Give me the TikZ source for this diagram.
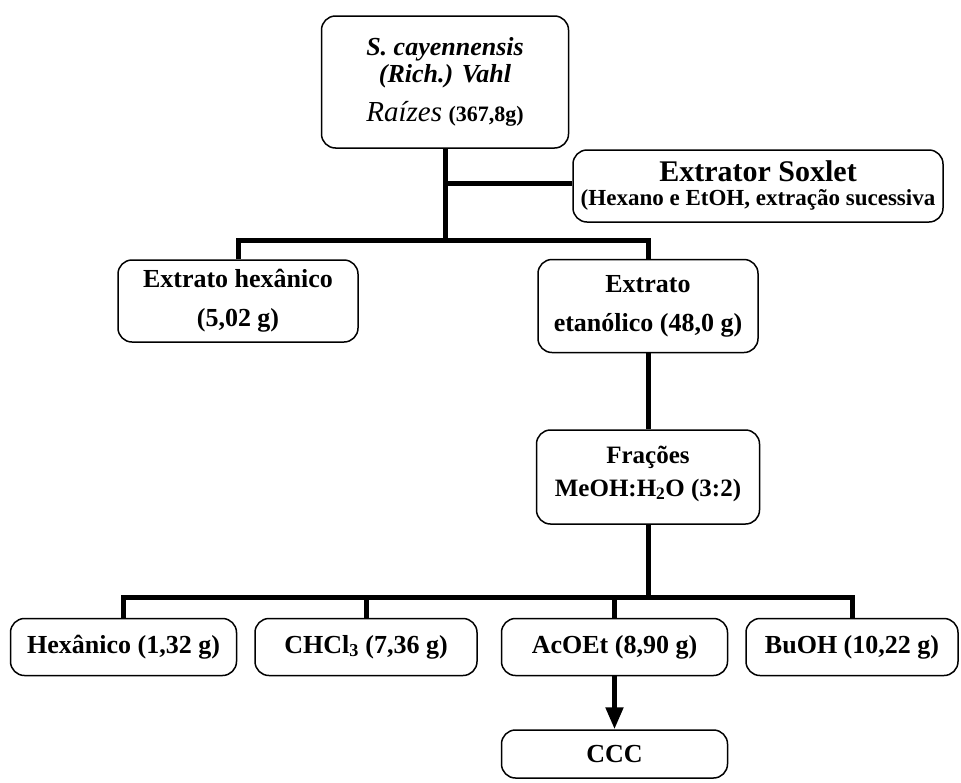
\documentclass[tikz,border=0pt]{standalone}
\usepackage{fontspec}
\setmainfont{Liberation Serif}
\usetikzlibrary{arrows.meta}

\tikzset{
	caixa/.style={draw, line width=1.5pt, rounded corners=14pt, align=center, inner sep=0pt,
		font=\fontsize{26}{39}\selectfont\bfseries},
	ligacao/.style={line width=5pt, line join=miter},
}

\begin{document}
\begin{tikzpicture}[x=1pt, y=-1pt]
			\useasboundingbox (0,0) rectangle (961,782);

			\def\wF{226};
			\def\hF{57};

			\begin{scope}
				\node[caixa, minimum width=247pt, minimum height=132pt, font=\fontsize{26}{27}\selectfont] (planta) at (445,82)
					{\textbf{\textit{S. cayennensis}}\\ \textbf{\textit{(Rich.) Vahl}}\\[12pt]
					{\fontsize{29}{30}\selectfont\textit{Raízes}} {\fontsize{22}{24}\selectfont\textbf{(367,8g)}}};
				\node[caixa, minimum width=370pt, minimum height=72pt, font=\fontsize{30}{24}\selectfont\bfseries] (soxlet) at (758,186)
					{Extrator Soxlet\\ {\fontsize{23}{24}\selectfont(Hexano e EtOH, extração sucessiva}};
				\node[caixa, minimum width=240pt, minimum height=82pt] (hexanico) at (238,301)
					{Extrato hexânico\\ (5,02 g)};
				\node[caixa, minimum width=220pt, minimum height=93pt] (etanolico) at (648,306)
					{Extrato\\ etanólico (48,0 g)};
				\node[caixa, minimum width=223pt, minimum height=94pt, font=\fontsize{25}{33}\selectfont\bfseries] (fracoes) at (648,477)
					{Frações\\ MeOH:H\textsubscript{2}O (3:2)\\[-21pt]};
			\end{scope}

			\begin{scope}
				\node[caixa, minimum width=\wF pt, minimum height=\hF pt] (fhex) at (123.5,647) {Hexânico (1,32 g)};
				\node[caixa, minimum width=222pt, minimum height=\hF pt] (fchcl) at (366,647) {CHCl\textsubscript{3} (7,36 g)};
				\node[caixa, minimum width=\wF pt, minimum height=\hF pt] (facoet) at (614.5,647) {AcOEt (8,90 g)};
				\node[caixa, minimum width=212pt, minimum height=\hF pt] (fbuoh) at (852,647) {BuOH (10,22 g)};
				\node[caixa, minimum width=\wF pt, minimum height=48pt] (ccc) at (614.5,754) {CCC};
			\end{scope}

			\coordinate (r1) at (445,240);
			\coordinate (r2) at (648,597);

			\begin{scope}[ligacao]
				\draw (planta.south) -- (r1);
				\draw ([yshift=3pt]soxlet.west) -- ([yshift=3pt]soxlet.west -| planta.south);
				\draw (hexanico.north) |- (r1) -| (etanolico.north);
				\draw (etanolico.south) -- (fracoes.north);
				\draw (fracoes.south) -- (r2);
				\draw (fhex.north) |- (r2) -| (fbuoh.north);
				\draw (fchcl.north) -- (fchcl.north |- r2);
				\draw (facoet.north) -- (facoet.north |- r2);
				\draw[-{Triangle[length=22pt, width=17pt]}] (facoet.south) -- (ccc.north);
			\end{scope}
		\end{tikzpicture}
\end{document}
